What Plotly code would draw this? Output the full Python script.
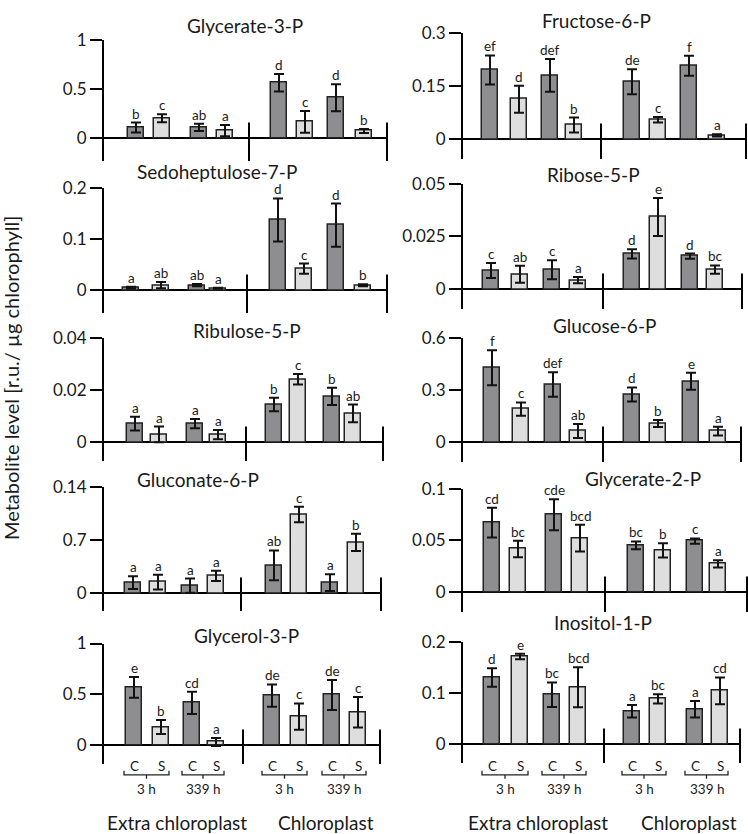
import plotly.graph_objects as go

W, H = 748, 834

# ---------------- data ----------------
treatments = ["C", "S", "C", "S", "C", "S", "C", "S"]
time_groups = ["3 h", "339 h", "3 h", "339 h"]
compartments = ["Extra chloroplast", "Chloroplast"]
y_title = "Metabolite level [r.u./ µg chlorophyll]"

glycerate_3p = [0.11, 0.203, 0.11, 0.077, 0.563, 0.167, 0.41, 0.073]
glycerate_3p_err = [0.05, 0.04, 0.037, 0.057, 0.088, 0.11, 0.137, 0.02]
glycerate_3p_sig = ["b", "c", "ab", "a", "d", "c", "d", "b"]

fructose_6p = [0.195, 0.113, 0.18, 0.04, 0.162, 0.055, 0.207, 0.011]
fructose_6p_err = [0.041, 0.038, 0.046, 0.021, 0.035, 0.008, 0.028, 0.003]
fructose_6p_sig = ["ef", "d", "def", "b", "de", "c", "f", "a"]

sedoheptulose_7p = [0.005, 0.01, 0.01, 0.004, 0.137, 0.042, 0.127, 0.0096]
sedoheptulose_7p_err = [0.002, 0.006, 0.002, 0.001, 0.042, 0.01, 0.042, 0.002]
sedoheptulose_7p_sig = ["a", "ab", "ab", "a", "d", "c", "d", "b"]

ribose_5p = [0.0089, 0.0071, 0.0093, 0.0043, 0.0168, 0.0342, 0.0157, 0.0093]
ribose_5p_err = [0.0035, 0.004, 0.0045, 0.0015, 0.0022, 0.009, 0.0012, 0.002]
ribose_5p_sig = ["c", "ab", "c", "a", "d", "e", "d", "bc"]

ribulose_5p = [0.0071, 0.003, 0.0071, 0.0029, 0.0144, 0.0241, 0.0175, 0.011]
ribulose_5p_err = [0.0026, 0.003, 0.0018, 0.0018, 0.0026, 0.002, 0.0033, 0.0034]
ribulose_5p_sig = ["a", "a", "a", "a", "b", "c", "b", "ab"]

glucose_6p = [0.427, 0.19, 0.331, 0.064, 0.274, 0.107, 0.35, 0.064]
glucose_6p_err = [0.1, 0.038, 0.07, 0.04, 0.04, 0.02, 0.049, 0.025]
glucose_6p_sig = ["f", "c", "def", "ab", "d", "b", "e", "a"]

gluconate_6p = [0.0138, 0.0146, 0.0099, 0.0228, 0.0366, 0.1034, 0.0138, 0.0668]
gluconate_6p_err = [0.0084, 0.0097, 0.0093, 0.0067, 0.0196, 0.0103, 0.011, 0.0114]
gluconate_6p_sig = ["a", "a", "a", "a", "ab", "c", "a", "b"]

glycerate_2p = [0.0672, 0.0417, 0.0748, 0.0522, 0.0452, 0.0404, 0.0494, 0.0274]
glycerate_2p_err = [0.0143, 0.008, 0.015, 0.0129, 0.0038, 0.0068, 0.0025, 0.0035]
glycerate_2p_sig = ["cd", "bc", "cde", "bcd", "bc", "b", "c", "a"]

glycerol_3p = [0.569, 0.178, 0.416, 0.031, 0.4875, 0.281, 0.494, 0.325]
glycerol_3p_err = [0.103, 0.069, 0.11, 0.04, 0.11, 0.13, 0.147, 0.15]
glycerol_3p_sig = ["e", "b", "cd", "a", "de", "c", "de", "c"]

inositol_1p = [0.130, 0.171, 0.0963, 0.111, 0.0642, 0.0883, 0.068, 0.104]
inositol_1p_err = [0.018, 0.0053, 0.024, 0.039, 0.012, 0.009, 0.016, 0.026]
inositol_1p_sig = ["d", "e", "bc", "bcd", "a", "bc", "a", "cd"]

# tick values / labels
ticks_glycerate_3p = ([0, 0.5, 1], ["0", "0.5", "1"])
ticks_fructose_6p = ([0, 0.15, 0.3], ["0", "0.15", "0.3"])
ticks_sedoheptulose_7p = ([0, 0.1, 0.2], ["0", "0.1", "0.2"])
ticks_ribose_5p = ([0, 0.025, 0.05], ["0", "0.025", "0.05"])
ticks_ribulose_5p = ([0, 0.02, 0.04], ["0", "0.02", "0.04"])
ticks_glucose_6p = ([0, 0.3, 0.6], ["0", "0.3", "0.6"])
ticks_gluconate_6p = ([0, 0.07, 0.14], ["0", "0.7", "0.14"])
ticks_glycerate_2p = ([0, 0.05, 0.1], ["0", "0.05", "0.1"])
ticks_glycerol_3p = ([0, 0.5, 1], ["0", "0.5", "1"])
ticks_inositol_1p = ([0, 0.1, 0.2], ["0", "0.1", "0.2"])

# ---------------- layout (pixel geometry) ----------------
FONT = "Lato"
TXT = "#1a1a1a"
DARK = "#8e8e90"
LIGHT = "#dedede"
colors = [DARK, LIGHT] * 4

L_AX, R_AX = 104, 463

panels = [
    # title, means, errs, sig, ticks, axis x, end x, divider, positions, top, zero, bottom, title xy
    ("Glycerate-3-P", glycerate_3p, glycerate_3p_err, glycerate_3p_sig, ticks_glycerate_3p,
     L_AX, 387, 249, [136, 162, 199, 225, 279, 305, 336, 364], 29, 129, 152, (245, 15)),
    ("Fructose-6-P", fructose_6p, fructose_6p_err, fructose_6p_sig, ticks_fructose_6p,
     R_AX, 746, 601, [490, 519, 550, 574, 632, 658, 689, 717], 22, 130, 150, (596, 10)),
    ("Sedoheptulose-7-P", sedoheptulose_7p, sedoheptulose_7p_err, sedoheptulose_7p_sig, ticks_sedoheptulose_7p,
     L_AX, 387, 247, [131, 161, 197, 218, 278, 304, 336, 363], 179, 283, 306, (217, 163)),
    ("Ribose-5-P", ribose_5p, ribose_5p_err, ribose_5p_sig, ticks_ribose_5p,
     R_AX, 742, 603, [491, 520, 552, 578, 632, 658, 690, 715], 175, 282, 302, (593, 166)),
    ("Ribulose-5-P", ribulose_5p, ribulose_5p_err, ribulose_5p_sig, ticks_ribulose_5p,
     L_AX, 383, 246, [135, 159, 195, 218, 274, 298, 332, 353], 331, 437, 456, (247, 324)),
    ("Glucose-6-P", glucose_6p, glucose_6p_err, glucose_6p_sig, ticks_glucose_6p,
     R_AX, 741, 603, [492, 521, 553, 578, 632, 658, 691, 718], 331, 437, 457, (604, 319)),
    ("Gluconate-6-P", gluconate_6p, gluconate_6p_err, gluconate_6p_sig, ticks_gluconate_6p,
     L_AX, 381, 241, [133, 158, 190, 216, 274, 299, 330, 356], 482, 590, 608, (198, 475)),
    ("Glycerate-2-P", glycerate_2p, glycerate_2p_err, glycerate_2p_sig, ticks_glycerate_2p,
     R_AX, 747, 605, [492, 518, 554, 580, 636, 663, 695, 718], 484, 589, 609, (643, 474)),
    ("Glycerol-3-P", glycerol_3p, glycerol_3p_err, glycerol_3p_sig, ticks_glycerol_3p,
     L_AX, 380, 243, [134, 161, 192, 216, 272, 299, 332, 358], 641, 744, 763, (246, 633)),
    ("Inositol-1-P", inositol_1p, inositol_1p_err, inositol_1p_sig, ticks_inositol_1p,
     R_AX, 740, 604, [492, 520, 552, 578, 632, 658, 695, 720], 639, 743, 762, (603, 620)),
]


def px(x):
    return x / W


def py(y):
    return 1 - y / H


fig = go.Figure()
annotations = []
shapes = []
layout_axes = {}

for i, (title, means, errs, sig, ticks, ax_x, end_x, div_x, pos, top, zero, bot, txy) in enumerate(panels, start=1):
    xa = f"x{i}" if i > 1 else "x"
    ya = f"y{i}" if i > 1 else "y"
    ymax = ticks[0][-1]
    ymin = -ymax * (bot - zero) / (zero - top)

    fig.add_trace(go.Bar(
        x=pos, y=means, width=16,
        marker=dict(color=colors, line=dict(color="#222222", width=1.5)),
        error_y=dict(type="data", array=errs, visible=True, color="#111111", thickness=2, width=5),
        xaxis=xa, yaxis=ya, showlegend=False, hoverinfo="y",
    ))

    kx = "xaxis" if i == 1 else f"xaxis{i}"
    ky = "yaxis" if i == 1 else f"yaxis{i}"
    layout_axes[kx] = dict(domain=[px(ax_x), px(end_x)], range=[ax_x, end_x], anchor=ya,
                           visible=False, fixedrange=True)
    layout_axes[ky] = dict(domain=[py(bot), py(top)], range=[ymin, ymax], anchor=xa,
                           showline=True, linecolor="black", linewidth=2,
                           ticks="outside", ticklen=12, tickwidth=2, tickcolor="black",
                           tickvals=ticks[0], ticktext=ticks[1],
                           tickfont=dict(family=FONT, size=17, color=TXT),
                           showgrid=False, zeroline=True, zerolinecolor="black", zerolinewidth=2,
                           fixedrange=True)

    # significance letters
    for p, m, e, s in zip(pos, means, errs, sig):
        annotations.append(dict(x=p, y=m + e, xref=xa, yref=ya, text=s, showarrow=False,
                                yanchor="bottom", yshift=-1,
                                font=dict(family=FONT, size=13.5, color=TXT)))
    # panel title
    annotations.append(dict(x=px(txy[0]), y=py(txy[1]), xref="paper", yref="paper", text=title,
                            showarrow=False, xanchor="center", yanchor="middle",
                            font=dict(family=FONT, size=19, color=TXT)))
    # divider and end ticks
    for vx in (div_x, end_x):
        shapes.append(dict(type="line", xref="paper", yref="paper",
                           x0=px(vx), x1=px(vx), y0=py(zero - 16), y1=py(bot),
                           line=dict(color="black", width=2)))

# y axis title
annotations.append(dict(x=px(11), y=py(372), xref="paper", yref="paper", text=y_title,
                        showarrow=False, textangle=-90, xanchor="center", yanchor="middle",
                        font=dict(family=FONT, size=20, color=TXT)))

# bottom category labels (use bottom-row geometry)
for col_panel, comp_centers in ((panels[8], (177, 326)), (panels[9], (538, 689))):
    pos = col_panel[8]
    for j, t in enumerate(treatments):
        annotations.append(dict(x=px(pos[j]), y=py(765), xref="paper", yref="paper", text=t,
                                showarrow=False, xanchor="center", yanchor="middle",
                                font=dict(family=FONT, size=13.5, color=TXT)))
    for g, tg in enumerate(time_groups):
        xc, xs = pos[2 * g], pos[2 * g + 1]
        xa_, xb_ = xc - 10, xs + 8
        xm = (xa_ + xb_) / 2
        path = (f"M {px(xa_)},{py(770)} L {px(xa_)},{py(774)} L {px(xb_)},{py(774)} L {px(xb_)},{py(770)} "
                f"M {px(xm)},{py(774)} L {px(xm)},{py(778)}")
        shapes.append(dict(type="path", xref="paper", yref="paper", path=path,
                           line=dict(color="#222222", width=1.3)))
        annotations.append(dict(x=px(xm), y=py(788), xref="paper", yref="paper", text=tg,
                                showarrow=False, xanchor="center", yanchor="middle",
                                font=dict(family=FONT, size=13.5, color=TXT)))
    for c, comp in zip(comp_centers, compartments):
        annotations.append(dict(x=px(c), y=py(822), xref="paper", yref="paper", text=comp,
                                showarrow=False, xanchor="center", yanchor="middle",
                                font=dict(family=FONT, size=19, color=TXT)))

fig.update_layout(
    width=W, height=H,
    margin=dict(l=0, r=0, t=0, b=0),
    paper_bgcolor="white", plot_bgcolor="white",
    bargap=0, showlegend=False,
    annotations=annotations, shapes=shapes,
    font=dict(family=FONT, color=TXT),
    **layout_axes,
)

fig.write_html("out.html", config={"displayModeBar": False},
               post_script="document.body.style.margin='0';document.body.style.overflow='hidden';")
